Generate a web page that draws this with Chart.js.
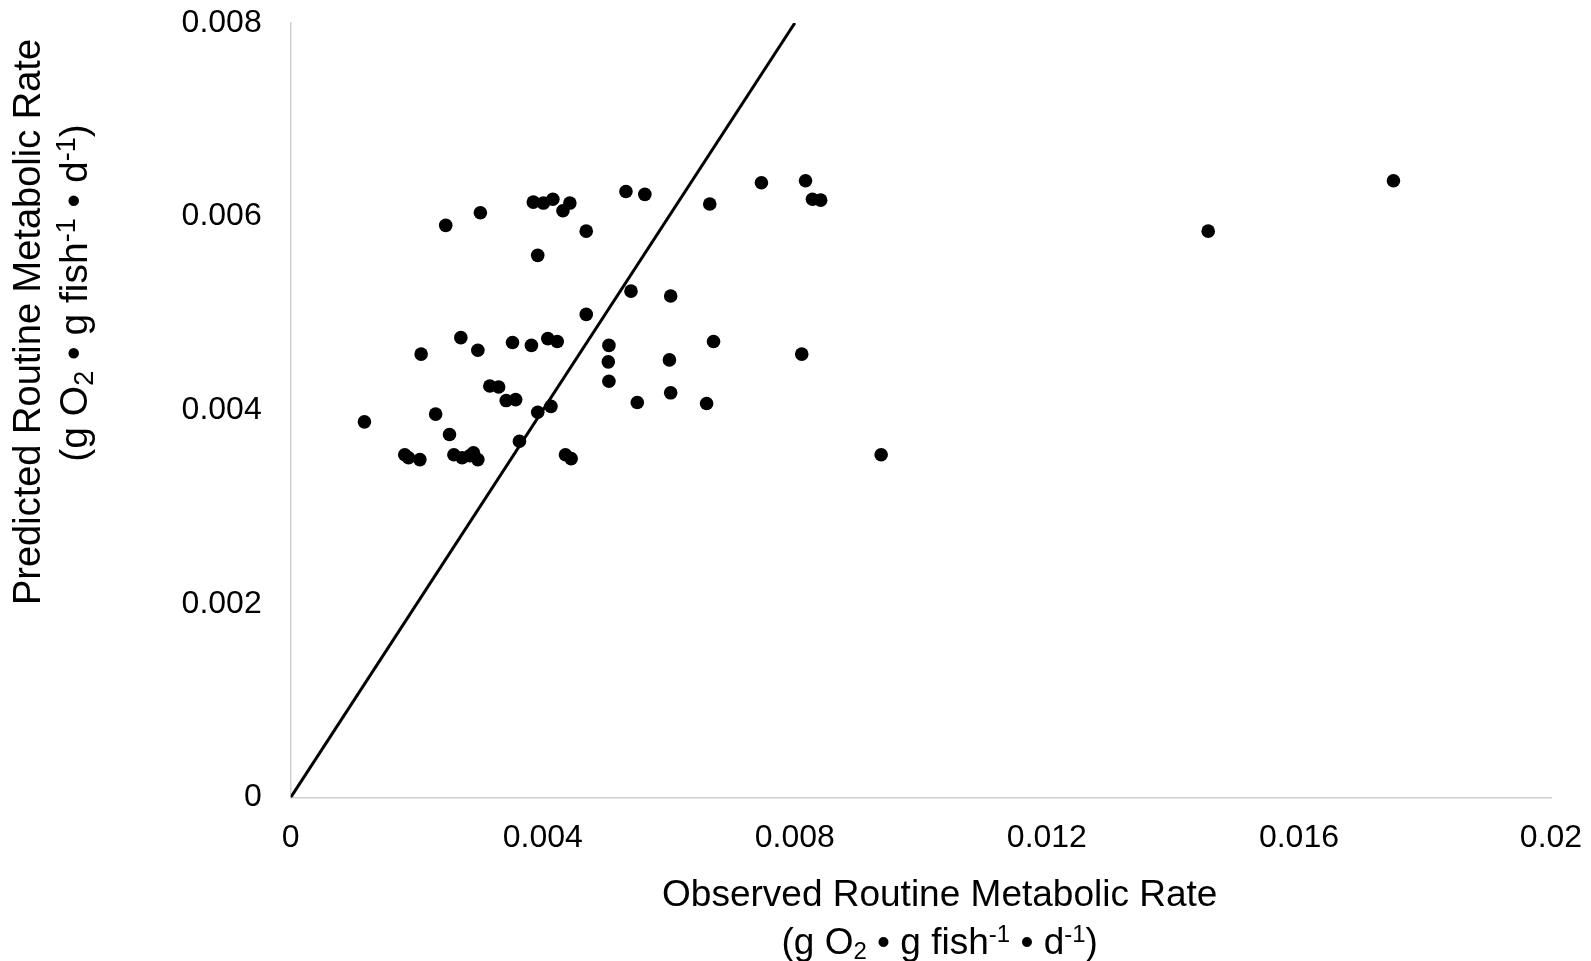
<!DOCTYPE html>
<html>
<head>
<meta charset="utf-8">
<script src="https://cdn.jsdelivr.net/npm/chart.js@4"></script>
<style>
body { margin: 0; background: #fff; }
#wrap { width: 1591px; height: 961px; }
</style>
</head>
<body>
<div id="wrap"><canvas id="myChart" width="1591" height="961"></canvas></div>
<script>
// observed vs predicted routine metabolic rate, one entry per fish
const obsX = [
    0.00117, 0.00181, 0.00187, 0.00205, 0.00207, 0.00230, 0.00246, 0.00252,
    0.00259, 0.00272, 0.00284, 0.00290, 0.00297,
    0.00270, 0.00297, 0.00301, 0.00316, 0.00330, 0.00342, 0.00357, 0.00352,
    0.00363, 0.00382, 0.00385, 0.00392, 0.00392, 0.00401, 0.00408, 0.00423,
    0.00413, 0.00416, 0.00432, 0.00443, 0.00436, 0.00445, 0.00469, 0.00469,
    0.00505, 0.00504, 0.00505, 0.00532, 0.00540, 0.00550, 0.00562, 0.00603,
    0.00601, 0.00603, 0.00665, 0.00671, 0.00660, 0.00747, 0.00817, 0.00828,
    0.00841, 0.00811, 0.00937, 0.01456, 0.01750
];
const predY = [
    0.00388, 0.00354, 0.00351, 0.00349, 0.00458, 0.00396, 0.00591, 0.00375,
    0.00354, 0.00351, 0.00353, 0.00356, 0.00349,
    0.00475, 0.00462, 0.00604, 0.00425, 0.00424, 0.00410, 0.00411, 0.00470,
    0.00368, 0.00467, 0.00615, 0.00560, 0.00398, 0.00614, 0.00474, 0.00471,
    0.00404, 0.00618, 0.00606, 0.00614, 0.00354, 0.00350, 0.00585, 0.00499,
    0.00467, 0.00450, 0.00430, 0.00626, 0.00523, 0.00408, 0.00623, 0.00518,
    0.00452, 0.00418, 0.00613, 0.00471, 0.00407, 0.00635, 0.00637, 0.00618,
    0.00617, 0.00458, 0.00354, 0.00585, 0.00637
];
// 1:1 line
const lineX = [0, 0.008];
const lineY = [0, 0.008];

const xTickLabels = ['0', '0.004', '0.008', '0.012', '0.016', '0.02'];
const yTickLabels = ['0', '0.002', '0.004', '0.006', '0.008'];

const xTitle = 'Observed Routine Metabolic Rate';
const yTitle = 'Predicted Routine Metabolic Rate';
// units line, pieces marked sub / sup get the small font
const unitParts = [['(g O', ''], ['2', 'sub'], [' \u2022 g fish', ''], ['-1', 'sup'], [' \u2022 d', ''], ['-1', 'sup'], [')', '']];

const family = '"Liberation Sans", Arial, sans-serif';

function drawUnits(ctx, cx, baseY, big, small) {
    const bigFont = big + 'px ' + family;
    const smallFont = small + 'px ' + family;
    let w = 0;
    unitParts.forEach(p => {
        ctx.font = p[1] ? smallFont : bigFont;
        w += ctx.measureText(p[0]).width;
    });
    let x = cx - w / 2;
    ctx.textAlign = 'left';
    unitParts.forEach(p => {
        ctx.font = p[1] ? smallFont : bigFont;
        let dy = 0;
        if (p[1] == 'sub') dy = big * 0.16;
        if (p[1] == 'sup') dy = -big * 0.3;
        ctx.fillText(p[0], x, baseY + dy);
        x += ctx.measureText(p[0]).width;
    });
}

const axisTitles = {
    id: 'axisTitles',
    afterDraw(chart) {
        const ctx = chart.ctx;
        const area = chart.chartArea;
        ctx.save();
        ctx.fillStyle = '#000';
        ctx.textBaseline = 'alphabetic';

        // x title under the axis
        let cx = area.left + 649;
        ctx.font = '37px ' + family;
        ctx.textAlign = 'center';
        ctx.fillText(xTitle, cx, area.bottom + 108);
        drawUnits(ctx, cx, area.bottom + 156, 37, 24);

        // y title, rotated
        ctx.save();
        ctx.translate(40, area.top + 299);
        ctx.rotate(-Math.PI / 2);
        ctx.font = '38px ' + family;
        ctx.textAlign = 'center';
        ctx.fillText(yTitle, 0, 0);
        ctx.restore();

        ctx.save();
        ctx.translate(87, area.top + 270);
        ctx.rotate(-Math.PI / 2);
        drawUnits(ctx, 0, 0, 39, 27);
        ctx.restore();

        ctx.restore();
    }
};

const points = obsX.map((x, i) => ({ x: x, y: predY[i] }));
const line = lineX.map((x, i) => ({ x: x, y: lineY[i] }));

const ctx = document.getElementById('myChart');

// tick marks are invisible, their length just spaces the labels off the axis
new Chart(ctx, {
    type: 'scatter',
    data: {
        datasets: [{
            label: 'fish',
            data: points,
            pointRadius: 6.8,
            pointHoverRadius: 6.8,
            backgroundColor: '#000',
            borderWidth: 0
        }, {
            label: '1:1',
            data: line,
            showLine: true,
            pointRadius: 0,
            borderColor: '#000',
            borderWidth: 3
        }]
    },
    options: {
        responsive: false,
        animation: false,
        devicePixelRatio: 1,
        layout: { padding: { top: 23, right: 40, bottom: 0, left: 0 } },
        plugins: {
            legend: { display: false },
            tooltip: { enabled: false }
        },
        scales: {
            x: {
                type: 'linear',
                min: 0,
                max: 0.02,
                afterFit: (s) => { s.height = 163.5; },
                grid: { display: true, drawOnChartArea: false, drawTicks: true, tickLength: 21, color: 'rgba(0,0,0,0)' },
                border: { display: true, color: '#d0d0d0', width: 1.5 },
                ticks: {
                    stepSize: 0.004,
                    padding: 0,
                    color: '#000',
                    font: { size: 32, family: family },
                    maxRotation: 0,
                    callback: (v, i) => xTickLabels[i]
                }
            },
            y: {
                type: 'linear',
                min: 0,
                max: 0.008,
                afterFit: (s) => { s.width = 290.7; },
                grid: { display: true, drawOnChartArea: false, drawTicks: true, tickLength: 29, color: 'rgba(0,0,0,0)' },
                border: { display: true, color: '#d0d0d0', width: 1.5 },
                ticks: {
                    stepSize: 0.002,
                    padding: 0,
                    color: '#000',
                    font: { size: 32, family: family },
                    callback: (v, i) => yTickLabels[i]
                }
            }
        }
    },
    plugins: [axisTitles]
});
</script>
</body>
</html>
